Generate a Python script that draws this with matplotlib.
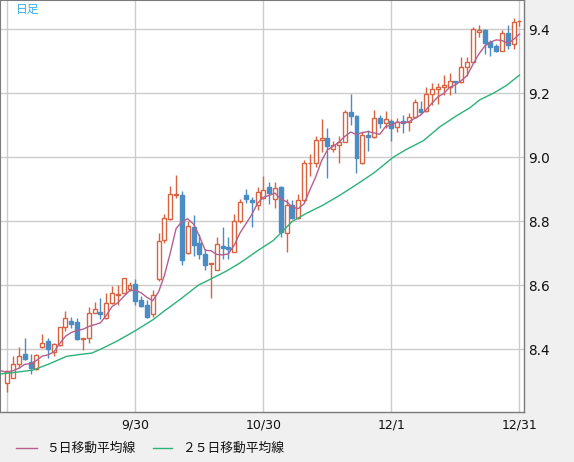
import matplotlib
matplotlib.use('Agg')
import matplotlib.pyplot as plt
import numpy as np
import pandas as pd
from matplotlib.lines import Line2D

plt.rcParams['font.family'] = ['DejaVu Sans']

# ---- data ----
opens = [8.296, 8.311, 8.353, 8.386, 8.360, 8.338, 8.408, 8.426, 8.390, 8.413,
         8.470, 8.489, 8.485, 8.433, 8.434, 8.513, 8.515, 8.497, 8.546, 8.569,
         8.577, 8.588, 8.605, 8.554, 8.538, 8.509, 8.621, 8.742, 8.808, 8.881,
         8.882, 8.700, 8.782, 8.731, 8.697, 8.666, 8.648, 8.723, 8.721, 8.705,
         8.801, 8.882, 8.865, 8.850, 8.872, 8.908, 8.870, 8.906, 8.764, 8.852,
         8.809, 8.865, 8.981, 8.982, 9.054, 9.060, 9.026, 9.039, 9.049, 9.143,
         9.128, 8.982, 9.071, 9.063, 9.123, 9.106, 9.113, 9.094, 9.112, 9.109,
         9.125, 9.151, 9.146, 9.197, 9.213, 9.219, 9.221, 9.239, 9.234, 9.281,
         9.297, 9.391, 9.398, 9.359, 9.348, 9.333, 9.390, 9.353, 9.426]
highs = [8.334, 8.379, 8.408, 8.436, 8.384, 8.384, 8.447, 8.436, 8.419, 8.471,
         8.520, 8.501, 8.497, 8.436, 8.532, 8.549, 8.561, 8.575, 8.598, 8.601,
         8.623, 8.610, 8.620, 8.567, 8.554, 8.585, 8.763, 8.824, 8.910, 8.945,
         8.895, 8.801, 8.820, 8.759, 8.713, 8.671, 8.751, 8.782, 8.751, 8.824,
         8.871, 8.900, 8.877, 8.908, 8.942, 8.922, 8.922, 8.911, 8.870, 8.865,
         8.885, 8.990, 9.010, 9.068, 9.120, 9.091, 9.052, 9.068, 9.149, 9.198,
         9.132, 9.078, 9.086, 9.149, 9.132, 9.146, 9.120, 9.122, 9.133, 9.138,
         9.181, 9.176, 9.221, 9.233, 9.231, 9.257, 9.263, 9.240, 9.315, 9.315,
         9.408, 9.414, 9.400, 9.367, 9.353, 9.398, 9.414, 9.434, 9.428]
lows = [8.265, 8.309, 8.340, 8.367, 8.322, 8.336, 8.404, 8.374, 8.379, 8.410,
        8.457, 8.466, 8.429, 8.397, 8.419, 8.512, 8.494, 8.496, 8.541, 8.538,
        8.575, 8.582, 8.539, 8.532, 8.499, 8.502, 8.614, 8.731, 8.804, 8.874,
        8.663, 8.699, 8.692, 8.683, 8.648, 8.560, 8.647, 8.683, 8.683, 8.704,
        8.796, 8.858, 8.782, 8.835, 8.869, 8.854, 8.841, 8.750, 8.705, 8.807,
        8.807, 8.861, 8.943, 8.969, 9.018, 8.934, 9.016, 8.982, 9.047, 9.101,
        8.951, 8.979, 9.019, 9.060, 9.091, 9.091, 9.052, 9.080, 9.077, 9.083,
        9.124, 9.135, 9.143, 9.164, 9.166, 9.195, 9.195, 9.200, 9.233, 9.255,
        9.294, 9.377, 9.323, 9.318, 9.330, 9.332, 9.339, 9.338, 9.410]
closes = [8.332, 8.353, 8.379, 8.371, 8.340, 8.381, 8.421, 8.400, 8.416, 8.470,
          8.497, 8.480, 8.431, 8.435, 8.513, 8.525, 8.509, 8.546, 8.575, 8.573,
          8.622, 8.600, 8.552, 8.535, 8.502, 8.570, 8.739, 8.809, 8.884, 8.884,
          8.678, 8.785, 8.725, 8.697, 8.663, 8.669, 8.728, 8.718, 8.713, 8.801,
          8.860, 8.869, 8.860, 8.890, 8.897, 8.888, 8.905, 8.766, 8.851, 8.809,
          8.867, 8.982, 8.983, 9.054, 9.060, 9.036, 9.039, 9.049, 9.143, 9.128,
          8.997, 9.070, 9.063, 9.123, 9.106, 9.120, 9.092, 9.111, 9.108, 9.125,
          9.172, 9.143, 9.197, 9.213, 9.219, 9.226, 9.239, 9.234, 9.281, 9.297,
          9.400, 9.398, 9.358, 9.346, 9.333, 9.390, 9.351, 9.424, 9.427]
# closes before the visible window (for the 5-day average at the left edge)
prior_closes = [8.35, 8.33, 8.34, 8.31, 8.33]

ma25_idx = [-1.25, 1, 4.4, 7.3, 10.2, 13, 14.5, 16, 18.8, 22, 25, 27, 29.7, 32.8,
            35, 37.7, 40, 43, 45.7, 49, 51.4, 54.2, 57.2, 60, 62.9, 66.3, 68.6,
            71.5, 74.3, 77.2, 79.5, 81.2, 83.5, 85.8, 88]
ma25_val = [8.323, 8.327, 8.335, 8.355, 8.378, 8.385, 8.388, 8.400, 8.425, 8.458,
            8.492, 8.520, 8.556, 8.600, 8.620, 8.645, 8.670, 8.708, 8.740, 8.800,
            8.825, 8.850, 8.882, 8.915, 8.950, 9.000, 9.025, 9.052, 9.095, 9.130,
            9.155, 9.180, 9.200, 9.225, 9.257]

tick_idx = [0, 22, 44, 66, 88]
tick_labels = ['', '9/30', '10/30', '12/1', '12/31']
y_ticks = [8.4, 8.6, 8.8, 9.0, 9.2, 9.4]
legend_labels = ['５日移動平均線', '２５日移動平均線']
title = '日足'

# ---- style ----
UP = '#d9623f'
DOWN = '#4a8cc4'
MA5C = '#b5608e'
MA25C = '#2bb279'
GRID = '#cccccc'
BG = '#f0f0f0'
BORDER = '#7a7a7a'
CJK = ['Noto Sans CJK JP', 'DejaVu Sans']

W, H = 574, 462
fig = plt.figure(figsize=(W / 100, H / 100), dpi=100, facecolor=BG)
ax = fig.add_axes([0, 50 / H, 524 / W, 412 / H])
ax.set_facecolor('white')

n = len(closes)
x = np.arange(n)
o = np.array(opens); c = np.array(closes)
h = np.array(highs); l = np.array(lows)
up = c >= o

# wicks
ax.vlines(x[up], l[up], h[up], color=UP, lw=1.0, zorder=3)
ax.vlines(x[~up], l[~up], h[~up], color=DOWN, lw=1.0, zorder=3)
# bodies
bw = 0.68
ax.bar(x[up], np.abs(c[up] - o[up]), bottom=np.minimum(o[up], c[up]), width=bw,
       facecolor='white', edgecolor=UP, linewidth=1.0, zorder=4)
ax.bar(x[~up], np.abs(c[~up] - o[~up]), bottom=np.minimum(o[~up], c[~up]), width=bw,
       facecolor=DOWN, edgecolor=DOWN, linewidth=1.0, zorder=4)

# moving averages
ma5 = pd.Series(prior_closes + closes).rolling(5).mean().to_numpy()[4:]
x5 = np.arange(-1, n)
ax.plot(x5, ma5, color=MA5C, lw=1.0, zorder=5)
ax.plot(ma25_idx, ma25_val, color=MA25C, lw=1.0, zorder=5)

ax.set_xlim(-1.25, 88.78)
ax.set_ylim(8.204, 9.4916)
ax.set_xticks(tick_idx)
ax.set_xticklabels(tick_labels)
ax.set_yticks(y_ticks)
ax.set_yticklabels([f'{v:.1f}' for v in y_ticks])
ax.yaxis.tick_right()
ax.tick_params(axis='both', length=0, colors='#111111')
ax.tick_params(axis='x', pad=5, labelsize=9)
ax.tick_params(axis='y', pad=3, labelsize=9.8)
ax.grid(True, color=GRID, lw=1.0, zorder=0)
ax.set_axisbelow(True)
for side, sp in ax.spines.items():
    sp.set_color(BORDER)
    sp.set_linewidth(1.5 if side in ('left', 'top') else 1.0)

fig.text(16 / W, 1 - 3 / H, title, color='#3aaee2', fontsize=8.5, va='top', ha='left',
         family=CJK)

# legend
ly = 1 - 448 / H
fig.add_artist(Line2D([16 / W, 37 / W], [ly, ly], color=MA5C, lw=1.0))
fig.text(46 / W, ly, legend_labels[0], fontsize=9.2, va='center', ha='left',
         family=CJK, color='#111111')
fig.add_artist(Line2D([153 / W, 172 / W], [ly, ly], color=MA25C, lw=1.0))
fig.text(182 / W, ly, legend_labels[1], fontsize=9.2, va='center', ha='left',
         family=CJK, color='#111111')

fig.savefig('out.png', dpi=100, facecolor=BG)
